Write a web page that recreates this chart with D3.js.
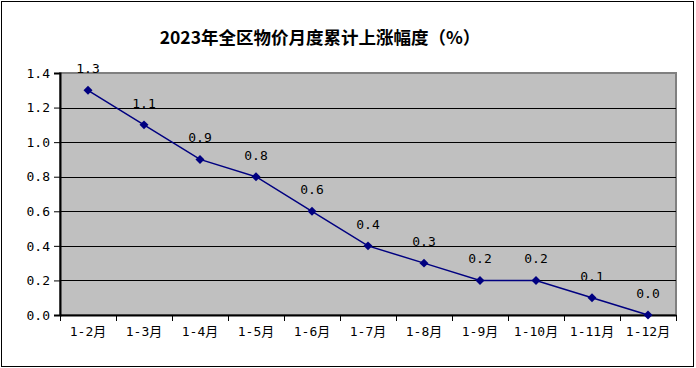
<!DOCTYPE html>
<html>
<head>
<meta charset="utf-8">
<script src="https://cdn.jsdelivr.net/npm/d3@7"></script>
<style>
  body { margin: 0; background: #fff; }
  text { font-family: "DejaVu Sans Mono", "Noto Sans CJK SC", monospace; }
</style>
</head>
<body>
<div id="target"></div>
<script>
const title = '2023年全区物价月度累计上涨幅度（%）';
const months = ['1-2月', '1-3月', '1-4月', '1-5月', '1-6月', '1-7月', '1-8月', '1-9月', '1-10月', '1-11月', '1-12月'];
const values = [1.3, 1.1, 0.9, 0.8, 0.6, 0.4, 0.3, 0.2, 0.2, 0.1, 0.0];
const yTicks = [0, 0.2, 0.4, 0.6, 0.8, 1.0, 1.2, 1.4];

const width = 696;
const height = 368;
const margin = {top: 73, right: 20, bottom: 53, left: 60};
const w = width - margin.left - margin.right;
const h = height - margin.top - margin.bottom;

const svg = d3.select('#target')
  .append('svg')
  .attr('width', width)
  .attr('height', height);

// outer frame
svg.append('rect')
  .attr('x', 1.5).attr('y', 1.5)
  .attr('width', width - 4).attr('height', height - 3)
  .attr('fill', '#fff')
  .attr('stroke', '#000')
  .attr('stroke-width', 1);

svg.append('text')
  .attr('x', 320)
  .attr('y', 44)
  .attr('text-anchor', 'middle')
  .style('font-family', '"Noto Sans CJK SC", sans-serif')
  .style('font-size', '17.5px')
  .style('font-weight', 'bold')
  .text(title);

const g = svg.append('g')
  .attr('transform', `translate(${margin.left},${margin.top})`);

const x = d3.scaleBand()
  .domain(months)
  .range([0, w]);

const y = d3.scaleLinear()
  .domain([0, 1.4])
  .range([h, 0]);

g.append('rect')
  .attr('width', w)
  .attr('height', h)
  .attr('fill', '#c0c0c0')
  .attr('stroke', '#808080')
  .attr('stroke-width', 2);

// gridlines
g.append('g')
  .selectAll('line')
  .data(yTicks.slice(1, -1))
  .enter()
  .append('line')
  .attr('x1', 0).attr('x2', w)
  .attr('y1', (d) => Math.round(y(d)) + 0.5)
  .attr('y2', (d) => Math.round(y(d)) + 0.5)
  .attr('stroke', '#000');

const yAxis = g.append('g')
  .call(d3.axisLeft(y).tickValues(yTicks).tickSize(6).tickPadding(4).tickFormat(d3.format('.1f')));
yAxis.select('.domain').attr('stroke-width', 2);
yAxis.selectAll('text').style('font-size', '13px').attr('fill', '#000');

const xAxis = g.append('g')
  .attr('transform', `translate(0,${h})`)
  .call(d3.axisBottom(x).tickSize(0).tickPadding(12));
xAxis.select('.domain').attr('stroke-width', 2);
xAxis.selectAll('text').style('font-size', '13px').attr('fill', '#000');

// category dividers on the x axis
g.append('g')
  .selectAll('line')
  .data(d3.range(months.length + 1))
  .enter()
  .append('line')
  .attr('x1', (i) => i * x.step() + 0.5)
  .attr('x2', (i) => i * x.step() + 0.5)
  .attr('y1', h).attr('y2', h + 6)
  .attr('stroke', '#000');

const cx = (d, i) => x(months[i]) + x.bandwidth() / 2;

const line = d3.line()
  .x((d, i) => cx(d, i))
  .y((d) => y(d));

g.append('path')
  .datum(values)
  .attr('d', line)
  .attr('fill', 'none')
  .attr('stroke', '#000080')
  .attr('stroke-width', 1.5);

// square turned 45 degrees gives the even diamond marker
const diamond = d3.symbol().type(d3.symbolSquare).size(40);
g.selectAll('.dot')
  .data(values)
  .enter()
  .append('path')
  .attr('class', 'dot')
  .attr('d', diamond)
  .attr('transform', (d, i) => `translate(${cx(d, i)},${y(d)}) rotate(45)`)
  .attr('fill', '#000080');

g.selectAll('.lbl')
  .data(values)
  .enter()
  .append('text')
  .attr('class', 'lbl')
  .attr('x', (d, i) => cx(d, i))
  .attr('y', (d) => y(d) - 17)
  .attr('text-anchor', 'middle')
  .style('font-size', '13px')
  .text((d) => d.toFixed(1));
</script>
</body>
</html>
